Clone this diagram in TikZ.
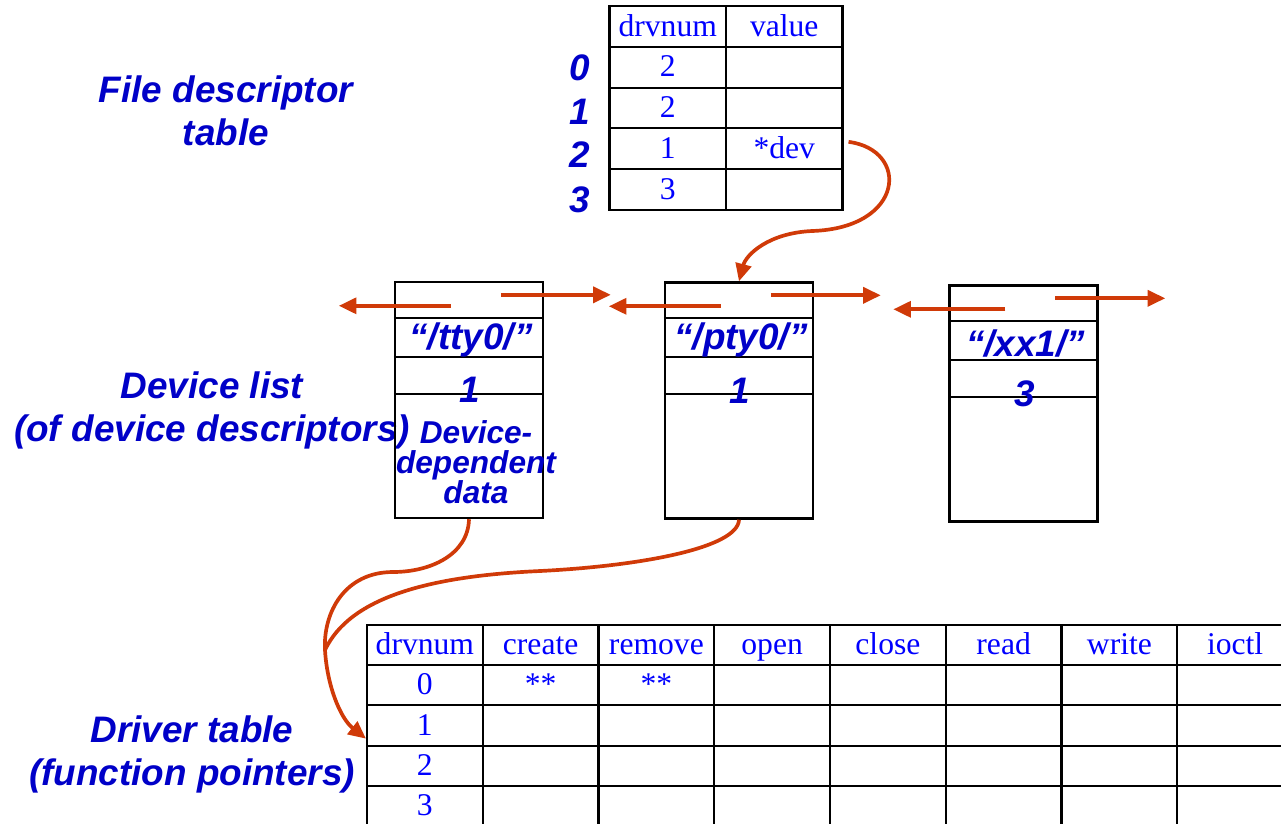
\documentclass[tikz,border=0pt]{standalone}
\usepackage{fontspec}
\setmainfont{Liberation Serif}
\setsansfont{Liberation Sans}
\usetikzlibrary{arrows.meta,calc}

\definecolor{lblue}{RGB}{0,0,200}
\definecolor{tblue}{RGB}{0,0,255}
\definecolor{ptr}{RGB}{208,58,8}

\begin{document}
\begin{tikzpicture}[x=0.02cm, y=-0.02cm,
	cell/.style={draw, line width=1.2pt, inner sep=0pt, text=tblue, text height=13pt, text depth=2pt, font=\fontsize{18}{20}\selectfont},
	fdcell/.style={cell, minimum width=2.33cm, minimum height=0.816cm},
	drvcell/.style={cell, minimum width=2.315cm, minimum height=0.804cm},
	caption/.style={text=lblue, align=center, font=\fontsize{21}{24.5}\selectfont\sffamily\bfseries\itshape},
	devbox/.style={draw, line width=1.4pt, minimum width=2.96cm, minimum height=4.72cm, inner sep=0pt},
	devtext/.style={text=lblue, font=\fontsize{21}{24}\selectfont\sffamily\bfseries\itshape},
	wire/.style={draw=ptr, line width=2.1pt},
	link/.style={wire, -{Triangle[length=10pt,width=9pt]}}]
	\useasboundingbox (0,0) rectangle (1281,823);
	\clip (0,0) rectangle (1281,823);

	% file descriptor table
	\node[caption] (fd-cap) at (226,111) {File descriptor\\table};
	\node[fdcell] (fd-h-n) at (667.75,26.4) {drvnum};
	\node[fdcell] (fd-h-v) at (784.25,26.4) {value};
	\foreach \r/\d/\v in {0/2/,1/2/,2/1/*dev,3/3/} {
		\node[fdcell] (fd-\r-n) at (667.75,67.2+40.8*\r) {\d};
		\node[fdcell] (fd-\r-v) at (784.25,67.2+40.8*\r) {\v};
	}
	\foreach \r/\y in {0/68,1/112,2/155,3/200}
		\node[caption] (fd-idx-\r) at (580,\y) {\r};

	% device list
	\node[caption] (dev-cap) at (212,410) {Device list\\(of device descriptors)};
	\foreach \name/\x/\y/\lab/\num in {tty/469/400/tty0/1, pty/739/400.5/pty0/1, xx/1023.5/403.5/xx1/3} {
		\node[devbox] (\name) at (\x,\y) {};
		\foreach \d in {37,76,113}
			\draw[line width=1.3pt] ($(\name.north west)+(0,\d)$) -- ($(\name.north east)+(0,\d)$);
		\node[devtext] (\name-id) at ($(\name.north)+(2,59)$) {“/\lab/”};
		\node[devtext] (\name-num) at ($(\name.north)+(1,109)$) {\num};
		\draw[link] ($(\name.north west)+(57,25)$) -- ++(-112,0);
		\draw[link] ($(\name.north west)+(107,14)$) -- ++(110,0);
	}
	\node[devtext, align=center, font=\fontsize{18}{17}\selectfont\sffamily\bfseries\itshape] (tty-data) at (476,462) {Device-\\dependent\\data};

	% driver table
	\node[caption] (drv-cap) at (192,754) {Driver table\\(function pointers)};
	\foreach \h [count=\c from 0] in {drvnum,create,remove,open,close,read,write,ioctl}
		\node[drvcell] (dt-h-\c) at (424.9+115.75*\c,645.1) {\h};
	\foreach \r/\a/\b in {0/**/**,1//,2//,3//} {
		\node[drvcell] (dt-\r-0) at (424.9,685.3+40.2*\r) {\r};
		\node[drvcell] (dt-\r-1) at (540.65,685.3+40.2*\r) {\a};
		\node[drvcell] (dt-\r-2) at (656.4,685.3+40.2*\r) {\b};
		\foreach \c in {3,...,7}
			\node[drvcell] (dt-\r-\c) at (424.9+115.75*\c,685.3+40.2*\r) {};
	}

	% pointers
	\coordinate (merge) at (325,650);
	\draw[link] ([shift={(5,-7)}]fd-2-v.east) .. controls (910,150) and (905,228) .. (812,231)
		.. controls (768,233) and (746,255) .. (pty.north);
	\draw[link] (tty.south) .. controls (468,555) and (430,572) .. (393,572)
		.. controls (345,572) and (323,612) .. (merge)
		.. controls (327,685) and (340,718) .. ([yshift=0.16cm]dt-1-0.south west);
	\draw[wire] (pty.south) .. controls (738,548) and (640,566) .. (540,571)
		.. controls (430,576) and (350,597) .. (merge);
\end{tikzpicture}
\end{document}
